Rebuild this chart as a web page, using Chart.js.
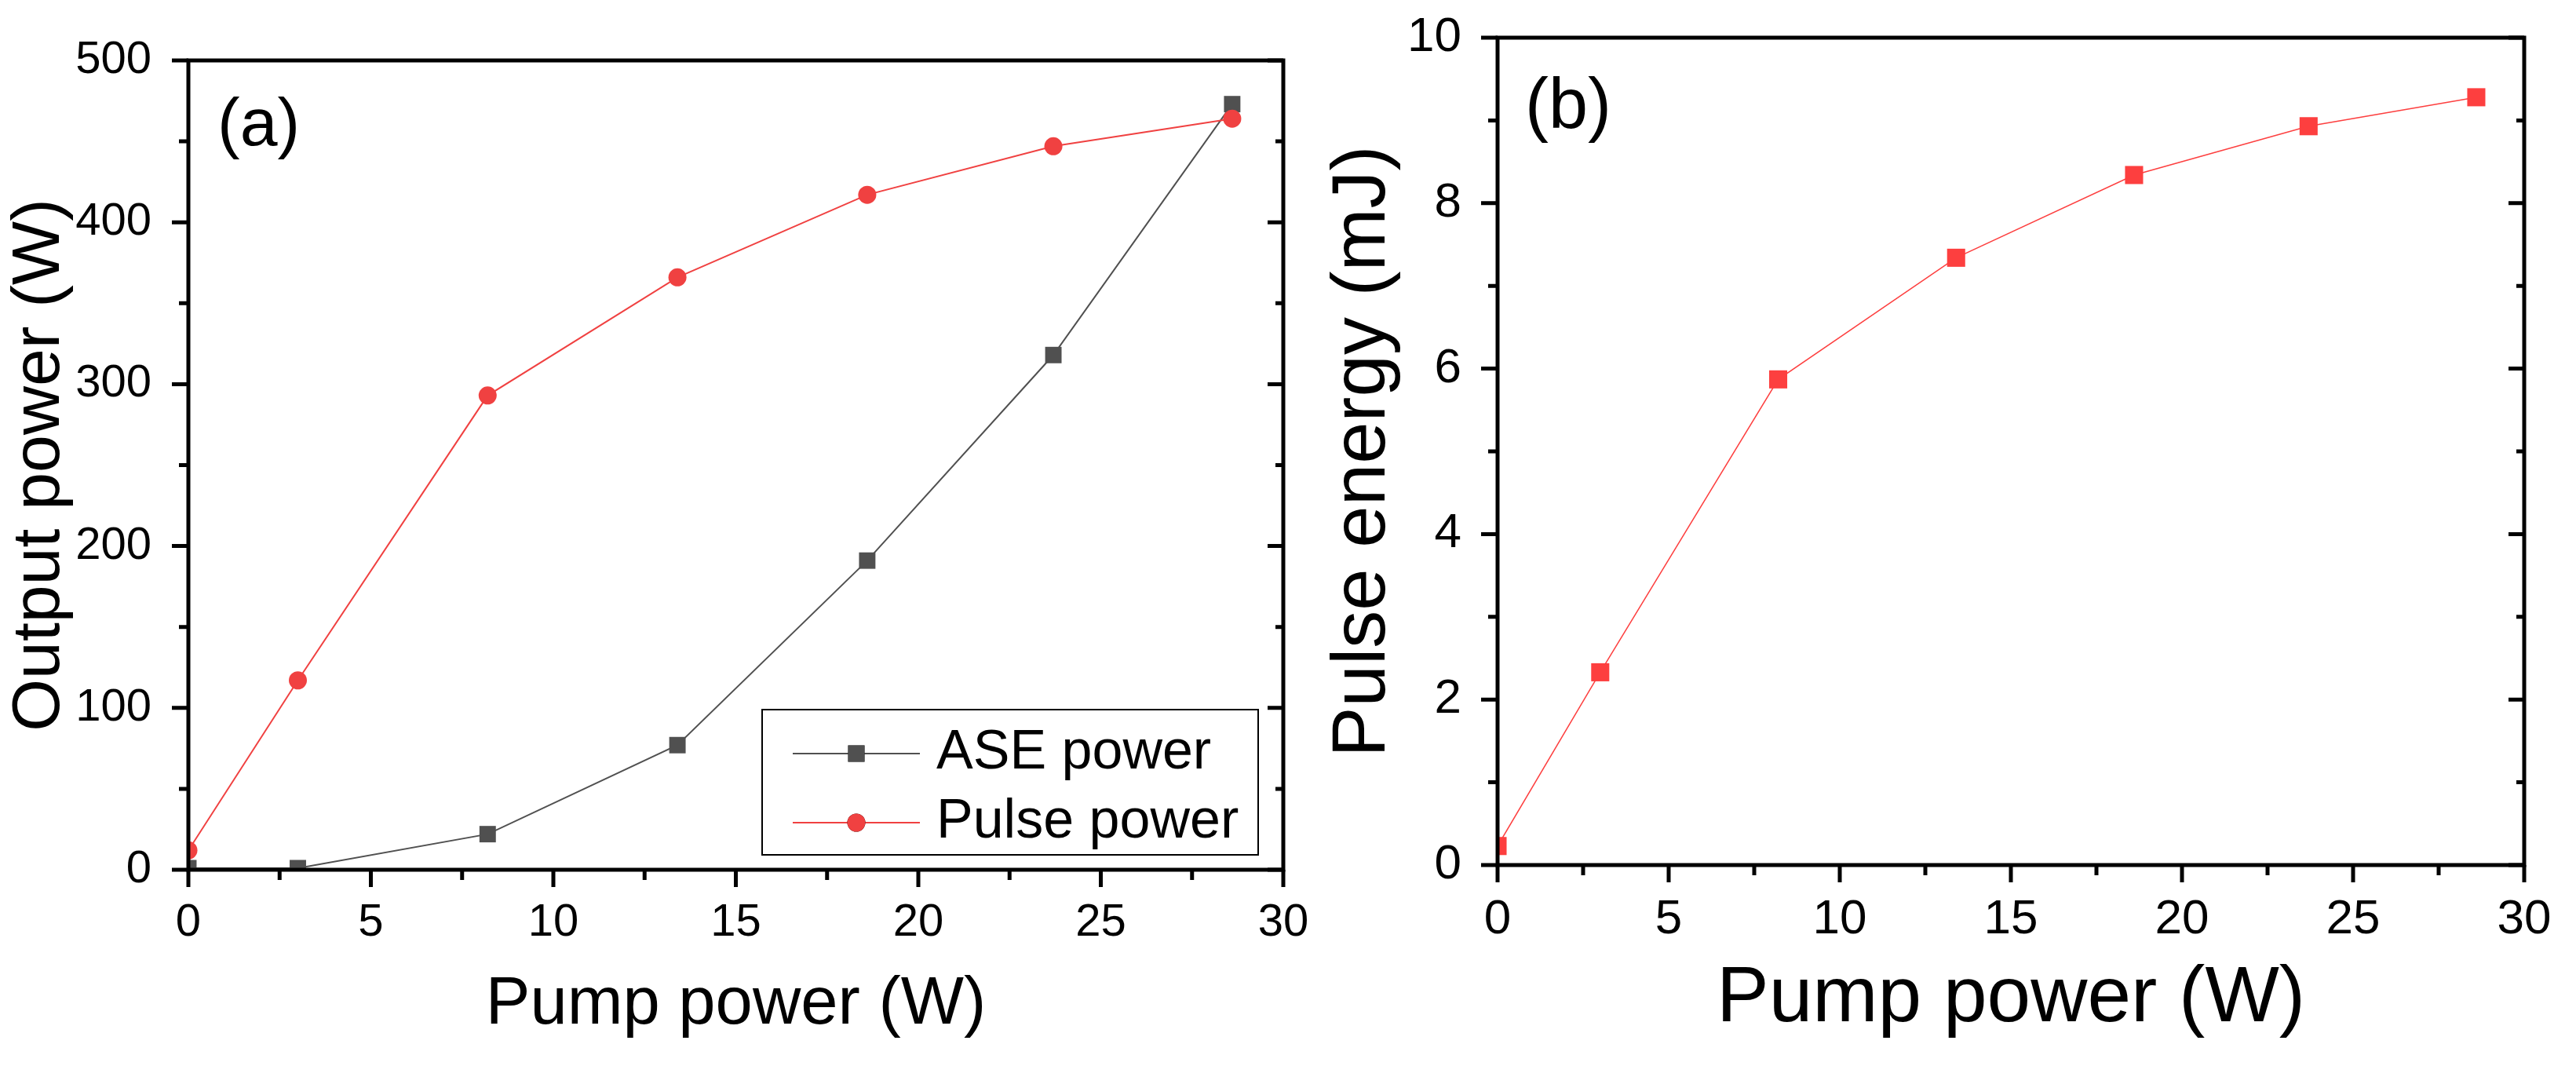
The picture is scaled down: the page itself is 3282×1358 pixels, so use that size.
<!DOCTYPE html>
<html>
<head>
<meta charset="utf-8">
<script src="https://cdn.jsdelivr.net/npm/chart.js@4.4.0/dist/chart.umd.min.js"></script>
<style>
html, body { margin: 0; padding: 0; background: #fff; }
body { width: 3282px; height: 1358px; position: relative; overflow: hidden; }
.panel { position: absolute; top: 0; height: 1358px; }
#panelA { left: 0; width: 1680px; }
#panelB { left: 1680px; width: 1602px; }
</style>
</head>
<body>
<div class="panel" id="panelA"><canvas id="chartA"></canvas></div>
<div class="panel" id="panelB"><canvas id="chartB"></canvas></div>
<script>
// data
const pumpPower = [0, 3, 8.2, 13.4, 18.6, 23.7, 28.6];
const asePower = [1, 1, 22, 77, 191, 318, 473];
const pulsePower = [12, 117, 293, 366, 417, 447, 464];
const pulseEnergy = [0.23, 2.33, 5.87, 7.34, 8.34, 8.93, 9.28];
const xTicks = [0, 5, 10, 15, 20, 25, 30];
const powerTicks = [0, 100, 200, 300, 400, 500];
const energyTicks = [0, 2, 4, 6, 8, 10];

const FONT = "'Liberation Sans', Arial, sans-serif";
const pts = ys => pumpPower.map((x, i) => ({ x, y: ys[i] }));

// box frame + Origin style ticks (major/minor, inward on the right)
const frame = {
    id: 'frame',
    afterDatasetsDraw(chart, args, o) {
        const { ctx, chartArea: a, scales: { x, y } } = chart;
        ctx.save();
        ctx.strokeStyle = '#000';
        ctx.lineWidth = 5;
        ctx.lineCap = 'butt';
        ctx.beginPath();
        for (let i = 0; x.min + i * o.xMinor <= x.max + 1e-6; i++) {
            const p = x.getPixelForValue(x.min + i * o.xMinor);
            ctx.moveTo(p, a.bottom);
            ctx.lineTo(p, a.bottom + (i % 2 === 0 ? 22 : 13));
        }
        for (let i = 0; y.min + i * o.yMinor <= y.max + 1e-6; i++) {
            const p = y.getPixelForValue(y.min + i * o.yMinor);
            const major = i % 2 === 0;
            ctx.moveTo(a.left, p);
            ctx.lineTo(a.left - (major ? 21 : 12), p);
            ctx.moveTo(a.right, p);
            ctx.lineTo(a.right - (major ? 20 : 10), p);
        }
        ctx.stroke();
        ctx.lineJoin = 'miter';
        ctx.strokeRect(a.left, a.top, a.right - a.left, a.bottom - a.top);
        ctx.restore();
    }
};

const panelLabel = {
    id: 'panelLabel',
    afterDraw(chart, args, o) {
        const { ctx, chartArea: a } = chart;
        ctx.save();
        ctx.fillStyle = '#000';
        ctx.font = o.size + 'px ' + FONT;
        ctx.textBaseline = 'alphabetic';
        ctx.fillText(o.text, a.left + o.dx, a.top + o.dy);
        ctx.restore();
    }
};

const boxLegend = {
    id: 'boxLegend',
    afterDraw(chart, args, o) {
        if (!o.show) return;
        const { ctx, chartArea: a } = chart;
        const w = 632, h = 185;
        const left = a.right - 32 - w, top = a.bottom - 19 - h;
        ctx.save();
        ctx.strokeStyle = '#000';
        ctx.lineWidth = 2;
        ctx.strokeRect(left, top, w, h);
        chart.data.datasets.forEach((ds, i) => {
            const cy = top + 56 + i * 88;
            ctx.strokeStyle = ds.borderColor;
            ctx.lineWidth = ds.borderWidth;
            ctx.beginPath();
            ctx.moveTo(left + 39, cy);
            ctx.lineTo(left + 201, cy);
            ctx.stroke();
            Chart.helpers.drawPoint(ctx, {
                pointStyle: ds.pointStyle, radius: ds.pointRadius, rotation: 0, borderWidth: 0
            }, left + 120, cy);
            ctx.fillStyle = ds.pointBackgroundColor;
            ctx.fill();
            ctx.fillStyle = '#000';
            ctx.font = '70px ' + FONT;
            ctx.textBaseline = 'middle';
            ctx.fillText(ds.label, left + 222, cy);
        });
        ctx.restore();
    }
};

function axes(o) {
    return {
        x: {
            type: 'linear', min: 0, max: 30,
            grid: { display: false }, border: { display: false },
            afterBuildTicks: s => { s.ticks = xTicks.map(v => ({ value: v })); },
            afterFit: s => { s.height = o.xHeight; s.paddingLeft = 0; s.paddingRight = 0; },
            ticks: { padding: 25, color: '#000', font: { family: FONT, size: o.tickSize } },
            title: { display: true, text: 'Pump power (W)', color: '#000',
                     font: { family: FONT, size: o.xTitleSize }, padding: { top: 0, bottom: o.xTitlePad } }
        },
        y: {
            type: 'linear', min: 0, max: o.yMax,
            grid: { display: false }, border: { display: false },
            afterBuildTicks: s => { s.ticks = o.yTicks.map(v => ({ value: v })); },
            afterFit: s => { s.width = o.yWidth; s.paddingTop = 0; s.paddingBottom = 0; },
            ticks: { padding: o.yPad, color: '#000', font: { family: FONT, size: o.tickSize } },
            title: { display: true, text: o.yTitle, color: '#000',
                     font: { family: FONT, size: o.yTitleSize }, padding: { top: 0, bottom: 0 } }
        }
    };
}

const common = {
    responsive: true,
    maintainAspectRatio: false,
    animation: false,
    devicePixelRatio: 1,
    elements: { line: { tension: 0 } }
};

new Chart(document.getElementById('chartA'), {
    type: 'line',
    data: {
        datasets: [
            { label: 'ASE power', data: pts(asePower), order: 2,
              borderColor: '#505050', borderWidth: 2, pointStyle: 'rect', pointRadius: 14.8,
              pointBackgroundColor: '#505050', pointBorderWidth: 0 },
            { label: 'Pulse power', data: pts(pulsePower), order: 1,
              borderColor: '#f04141', borderWidth: 2, pointStyle: 'circle', pointRadius: 11.5,
              pointBackgroundColor: '#f04141', pointBorderWidth: 0 }
        ]
    },
    options: {
        ...common,
        layout: { padding: { top: 77, right: 45, left: 0, bottom: 0 } },
        scales: axes({ xHeight: 250, yWidth: 240, yMax: 500, yTicks: powerTicks, yPad: 39,
                       tickSize: 58, xTitleSize: 85, xTitlePad: 26, yTitle: 'Output power (W)', yTitleSize: 86 }),
        plugins: {
            legend: { display: false }, tooltip: { enabled: false },
            frame: { xMinor: 2.5, yMinor: 50 },
            panelLabel: { text: '(a)', size: 86, dx: 37, dy: 108 },
            boxLegend: { show: true }
        }
    },
    plugins: [frame, panelLabel, boxLegend]
});

new Chart(document.getElementById('chartB'), {
    type: 'line',
    data: {
        datasets: [
            { label: 'Pulse energy', data: pts(pulseEnergy),
              borderColor: '#fd3f3f', borderWidth: 1.5, pointStyle: 'rect', pointRadius: 16.3,
              pointBackgroundColor: '#fd3f3f', pointBorderWidth: 0 }
        ]
    },
    options: {
        ...common,
        layout: { padding: { top: 48, right: 66, left: 0, bottom: 0 } },
        scales: axes({ xHeight: 256, yWidth: 228, yMax: 10, yTicks: energyTicks, yPad: 38,
                       tickSize: 62, xTitleSize: 100, xTitlePad: 25, yTitle: 'Pulse energy (mJ)', yTitleSize: 96 }),
        plugins: {
            legend: { display: false }, tooltip: { enabled: false },
            frame: { xMinor: 2.5, yMinor: 1 },
            panelLabel: { text: '(b)', size: 90, dx: 35, dy: 115 },
            boxLegend: { show: false }
        }
    },
    plugins: [frame, panelLabel, boxLegend]
});
</script>
</body>
</html>
